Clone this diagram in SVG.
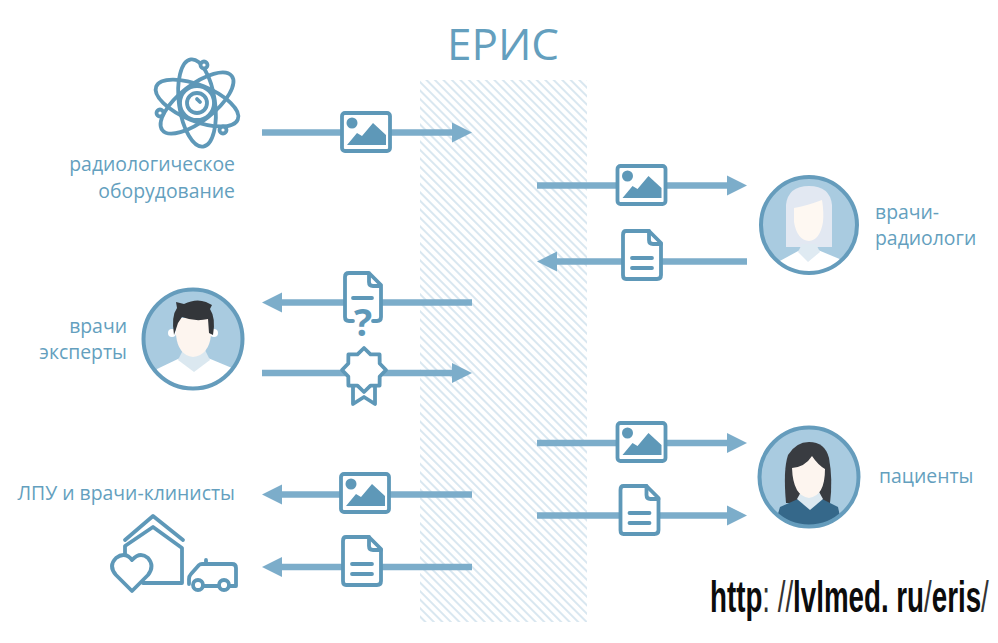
<svg xmlns="http://www.w3.org/2000/svg" xmlns:xlink="http://www.w3.org/1999/xlink" width="998" height="643" viewBox="0 0 998 643">
  <style>
    .label { font-family: "Open Sans", "Noto Sans", sans-serif; font-size: 19.4px; fill: #649fbe; }
    .title { font-family: "Open Sans", "Noto Sans", sans-serif; font-size: 44px; fill: #649fbe; }
    .line { stroke: #7cadca; stroke-width: 6.500; fill: none; }
    .head { fill: #7cadca; }
    .ico { fill: #fff; stroke: #5e98b8; stroke-width: 3.8; stroke-linejoin: round; stroke-linecap: round; }
    .open { fill: none; stroke: #5e98b8; stroke-width: 3.8; stroke-linejoin: round; stroke-linecap: round; }
    .solid { fill: #5e98b8; }
    .disc { fill: #a9cbe0; }
    .ring { fill: none; stroke: #659cbc; stroke-width: 4; }
    .skin { fill: #fdf5ef; }
    .url { font-family: "Liberation Sans", Arial, sans-serif; font-size: 44px; font-weight: 700; fill: #0c0c0c; }
    .thin { font-weight: 400; fill: #333; }
  </style>
  <defs>
    <pattern id="hatch" width="6" height="6" patternUnits="userSpaceOnUse" patternTransform="rotate(45)">
      <rect width="6" height="2" fill="#d9e7f0"/>
    </pattern>
    <g id="picture">
      <rect class="ico" x="-24" y="-19" width="48" height="38" rx="3"/>
      <circle class="solid" cx="-14" cy="-9" r="5.500"/>
      <polygon class="solid" points="-19,13 -9,1 -4,4 7,-9 20,3 20,13"/>
    </g>
    <g id="doc">
      <path class="ico" d="M-16,-24 H7 L19,-12 V20 Q19,24 15,24 H-16 Q-19,24 -19,20 V-20 Q-19,-24 -16,-24 Z"/>
      <path class="open" d="M7,-24 V-15 Q7,-11 11,-11 H19 M-10,3 H10 M-10,13 H10"/>
    </g>
    <polygon id="arrowR" class="head" points="0,-10 20,0 0,10"/>
    <polygon id="arrowL" class="head" points="0,-10 -20,0 0,10"/>
    <clipPath id="clipExpert"><circle cx="193" cy="339" r="49"/></clipPath>
    <clipPath id="clipRadiologist"><circle cx="809" cy="225" r="48"/></clipPath>
    <clipPath id="clipPatient"><circle cx="809" cy="477" r="49"/></clipPath>
  </defs>

  <rect width="998" height="643" fill="#fff"/>
  <rect id="eris-zone" x="420" y="80" width="167" height="542" fill="url(#hatch)"/>
  <text class="title" x="503" y="60" text-anchor="middle">ЕРИС</text>

  <g id="connectors">
    <path class="line" d="M262,132.500 H452"/><use href="#arrowR" x="452" y="132.500"/>
    <path class="line" d="M537,185.500 H727"/><use href="#arrowR" x="727" y="185.500"/>
    <path class="line" d="M747,261.500 H557"/><use href="#arrowL" x="557" y="261.500"/>
    <path class="line" d="M472,302.500 H282"/><use href="#arrowL" x="282" y="302.500"/>
    <path class="line" d="M262,373 H452"/><use href="#arrowR" x="452" y="373"/>
    <path class="line" d="M537,443 H727"/><use href="#arrowR" x="727" y="443"/>
    <path class="line" d="M537,515.500 H727"/><use href="#arrowR" x="727" y="515.500"/>
    <path class="line" d="M472,494.500 H282"/><use href="#arrowL" x="282" y="494.500"/>
    <path class="line" d="M472,567 H282"/><use href="#arrowL" x="282" y="567"/>
  </g>

  <g id="payload-icons">
    <use href="#picture" x="366" y="132"/>
    <use href="#picture" x="641.500" y="185"/>
    <use href="#doc" x="642" y="255"/>
    <use href="#picture" x="641.500" y="442"/>
    <use href="#doc" x="639.500" y="510"/>
    <use href="#picture" x="365" y="493"/>
    <use href="#doc" x="362" y="561"/>
    <g id="query-doc">
      <path style="fill:#fff;stroke:none" d="M344,273 H382 V322 H344 Z"/>
      <path class="open" d="M353,321 H349 Q345,321 345,317 V277 Q345,273 349,273 H369 L381,285 V317 Q381,321 377,321 H373 M369,273 V282 Q369,286 373,286 H381 M353,298 H372"/>
      <text x="363" y="336" text-anchor="middle" font-family="'Open Sans', sans-serif" font-size="38" font-weight="700" fill="#5e98b8">?</text>
    </g>
    <g id="medal" transform="translate(364,370)">
      <path class="open" d="M-11,14 V34 L0,27 L11,34 V14"/>
      <polygon class="ico" points="22,0 15.700,6.500 15.600,15.600 6.500,15.700 0,22 -6.500,15.700 -15.600,15.600 -15.700,6.500 -22,0 -15.700,-6.500 -15.600,-15.600 -6.500,-15.700 0,-22 6.500,-15.700 15.600,-15.600 15.700,-6.500"/>
    </g>
  </g>

  <g id="equipment">
    <g class="open" transform="translate(197,103)">
      <ellipse rx="18" ry="44" transform="rotate(-8)" fill="none"/>
      <ellipse rx="18" ry="44" transform="rotate(52)" fill="none"/>
      <ellipse rx="18" ry="44" transform="rotate(112)" fill="none"/>
      <circle r="17" fill="#fff"/>
      <circle r="10"/>
      <path d="M0,-4 L3,-1"/>
    </g>
    <circle class="ico" cx="204" cy="65" r="3.500"/>
    <circle class="ico" cx="160" cy="113" r="3.500"/>
    <circle class="ico" cx="223" cy="130" r="3.500"/>
    <text class="label" x="235" y="171" text-anchor="end">радиологическое</text>
    <text class="label" x="235" y="198" text-anchor="end">оборудование</text>
  </g>

  <g id="radiologists">
    <circle class="disc" cx="809" cy="225" r="48"/>
    <g clip-path="url(#clipRadiologist)">
      <path fill="#e2e8f2" d="M786,247 V205 Q788,186 809,186 Q830,186 832,205 V247 Z"/>
      <path fill="#fff" d="M778,262 L800,250 H818 L842,260 L850,290 H770 Z"/>
      <path fill="#dfeaf2" d="M798,252 L808,262 L820,252 L816,244 H802 Z"/>
      <path fill="#fef8f2" d="M794,208 Q806,206 822,200 Q824,212 823,222 Q820,240 809,241 Q797,240 794,222 Z"/>
    </g>
    <circle class="ring" cx="809" cy="225" r="48"/>
    <text class="label" x="875" y="219">врачи-</text>
    <text class="label" x="875" y="245">радиологи</text>
  </g>

  <g id="experts">
    <circle class="disc" cx="193" cy="339" r="49"/>
    <g clip-path="url(#clipExpert)">
      <path fill="#fff" d="M157,369 L180,358 H208 L232,368 L240,400 H150 Z"/>
      <path fill="#dbe8f0" d="M178,360 L194,372 L210,360 L205,350 H183 Z"/>
      <circle cx="172" cy="333" r="4" fill="#fff"/>
      <circle cx="214" cy="333" r="4" fill="#fff"/>
      <path class="skin" d="M176,318 H211 V335 Q209,355 193,357 Q178,355 176,335 Z"/>
      <path fill="#33363a" d="M174,335 Q171,316 177,308 L176,302 L184,304 Q196,298 206,302 L212,305 L210,309 Q216,318 213,335 L209,333 L208,319 Q195,322 182,317 L178,323 Z"/>
    </g>
    <circle class="ring" cx="193" cy="339" r="49.500"/>
    <text class="label" x="127" y="333" text-anchor="end">врачи</text>
    <text class="label" x="127" y="359" text-anchor="end">эксперты</text>
  </g>

  <g id="clinics">
    <path class="open" d="M125,540 L153,516 L183,540"/>
    <path class="open" d="M125,556 V546 L153,527 L182,548 V583 H143"/>
    <path class="ico" d="M132,591 L116,575 Q108,566 116,558 Q125,551 132,560 Q140,551 148,558 Q155,566 148,575 Z"/>
    <path class="open" d="M189,584 V579 Q189,576 191,574 L199,565 Q200,564 202,564 H232 Q236,564 236,568 V586 H230 M218,586 H204 M206,564 V560"/>
    <circle class="ico" cx="198" cy="585" r="5"/>
    <circle class="ico" cx="224" cy="585" r="5"/>
    <text class="label" x="235" y="500" text-anchor="end">ЛПУ и врачи-клинисты</text>
  </g>

  <g id="patients">
    <circle class="disc" cx="809" cy="477" r="49"/>
    <g clip-path="url(#clipPatient)">
      <path fill="#393c41" d="M786,503 Q783,470 788,455 Q796,442 809,442 Q825,442 829,458 Q833,480 830,503 Z"/>
      <path fill="#35688a" d="M780,507 L798,499 H822 L838,507 L845,540 H770 Z"/>
      <path fill="#dbe8f0" d="M797,499 L810,510 L823,499 L818,490 H802 Z"/>
      <path class="skin" d="M792,468 Q805,467 812,456 Q818,465 825,469 Q825,496 809,498 Q793,496 792,468 Z"/>
    </g>
    <circle class="ring" cx="809" cy="477" r="49.500"/>
    <text class="label" x="879" y="483">пациенты</text>
  </g>

  <text class="url" transform="translate(710,612) scale(0.63,1)">http<tspan class="thin">: //</tspan>lvlmed. ru<tspan class="thin">/</tspan>eris<tspan class="thin">/</tspan></text>
</svg>
